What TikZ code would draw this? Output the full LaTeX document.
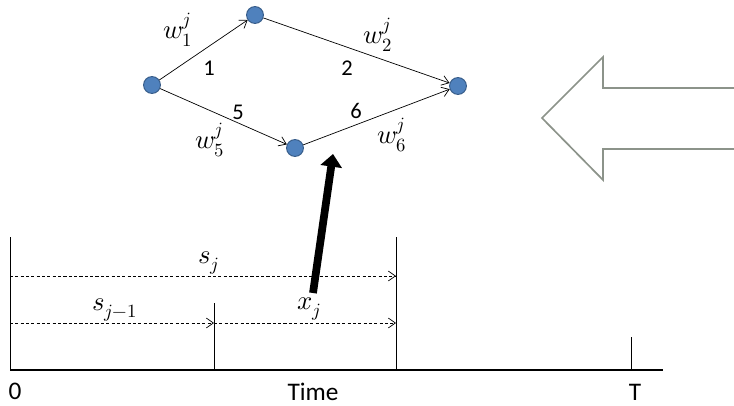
\documentclass[tikz,border=0pt]{standalone}
\usepackage{fontspec}
\usepackage{unicode-math}
\setmainfont{Carlito}
\setmathfont{Latin Modern Math}
\usetikzlibrary{arrows.meta,positioning}
\definecolor{dotblue}{RGB}{79,129,189}
\definecolor{dotedge}{RGB}{56,93,138}
\definecolor{bigarrow}{RGB}{140,147,138}
\begin{document}
\begin{tikzpicture}[x=0.025cm, y=-0.025cm, dot/.style={circle,draw=dotedge,fill=dotblue,line width=0.7pt,minimum size=12pt,inner sep=0pt}, edge/.style={-{Straight Barb[length=5pt,width=7pt]},line width=0.5pt}, span/.style={-{Straight Barb[length=5pt,width=7pt]},dash pattern=on 2.2pt off 1.6pt,line width=0.5pt}, tick/.style={line width=0.6pt}, lbl/.style={inner sep=0pt,font=\fontsize{16}{18}\selectfont}, mlbl/.style={inner sep=0pt,font=\fontsize{19}{22}\selectfont}, axlbl/.style={inner sep=0pt,font=\fontsize{18}{20}\selectfont}]
\useasboundingbox (0,0) rectangle (734,406);
% network
\node[dot] (a) at (152,85) {};
\node[dot] (b) at (255,15) {};
\node[dot] (c) at (458,86) {};
\node[dot] (d) at (295,148) {};
\draw[edge] (a)--(b); \draw[edge] (b)--(c); \draw[edge] (a)--(d); \draw[edge] (d)--(c);
\node[mlbl] (w1) at (178,30) {$w_1^j$};
\node[lbl] (n1) at (209,68) {1};
\node[mlbl] (w2) at (378,35) {$w_2^j$};
\node[lbl] (n2) at (347,68) {2};
\node[lbl] (n5) at (238,112) {5};
\node[mlbl] (w5) at (210,140) {$w_5^j$};
\node[lbl] (n6) at (356,111) {6};
\node[mlbl] (w6) at (392,135) {$w_6^j$};
% hollow arrow
\draw[bigarrow,line width=1.2pt,line join=miter] (734,88)--(603,88)--(603,57)--(542,118)--(603,180)--(603,149)--(734,149);
% time axis
\coordinate (o) at (10,370);
\coordinate (end) at (663,370);
\coordinate (top) at (10,237);
\coordinate (m) at (214,370);
\coordinate (mt) at (214,303);
\coordinate (r) at (396,370);
\coordinate (rt) at (396,237);
\coordinate (t) at (631,370);
\coordinate (tt) at (631,337);
\draw[line width=0.9pt] (o)--(end);
\draw[tick] (top)--(o); \draw[tick] (mt)--(m); \draw[tick] (rt)--(r); \draw[tick] (tt)--(t);
\coordinate (sj0) at (10,276); \coordinate (sj1) at (396,276);
\coordinate (sk0) at (10,323); \coordinate (sk1) at (214,323); \coordinate (xj1) at (396,323);
\draw[span] (sj0)--(sj1); \draw[span] (sk0)--(sk1); \draw[span] (sk1)--(xj1);
\node[mlbl] (sj) at (209,263) {$s_j$};
\node[mlbl] (sk) at (115,310) {$s_{j-1}$};
\node[mlbl] (xj) at (309,309) {$x_j$};
\node[axlbl] (zero) at (15,391) {0};
\node[axlbl] (time) at (313,392) {Time};
\node[axlbl] (T) at (635,392) {T};
% thick pointer
\coordinate (p0) at (313,293);
\coordinate (p1) at (333,154);
\draw[line width=5.5pt,-{Triangle[length=9pt,width=15pt]}] (p0)--(p1);
\end{tikzpicture}
\end{document}
